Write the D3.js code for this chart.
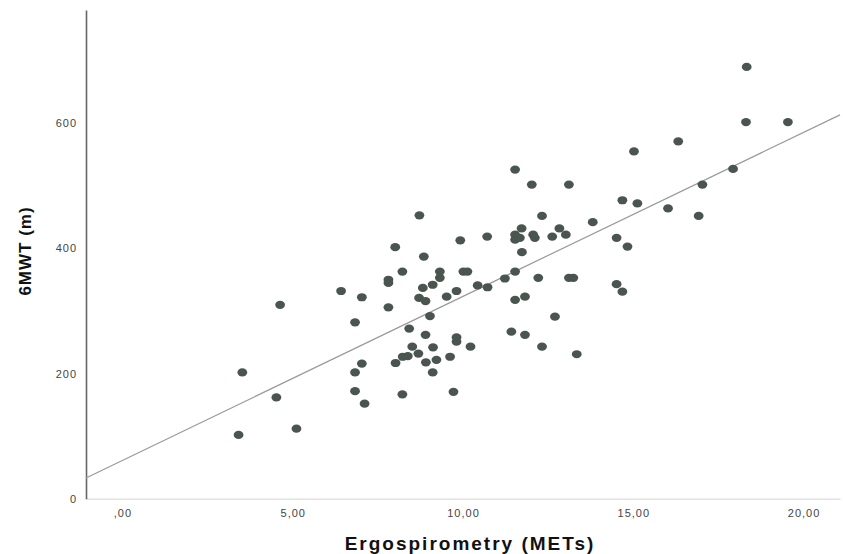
<!DOCTYPE html>
<html>
<head>
<meta charset="utf-8">
<script src="https://cdnjs.cloudflare.com/ajax/libs/d3/7.8.5/d3.min.js"></script>
<style>
	body { margin: 0; background: #fff; }
	text { font-family: "Liberation Sans", Arial, sans-serif; }
</style>
</head>
<body>
<div id="chart"></div>
<script>
// METs from ergospirometry (x) and 6MWT distance in m (y)
var mets = [3.41, 3.52, 4.52, 4.63, 5.11, 6.42, 6.83, 6.83, 6.83, 7.03, 7.03, 7.11, 7.81, 7.81, 7.81,
	8.01, 8.02, 8.22, 8.22, 8.23, 8.38, 8.42, 8.51, 8.69, 8.72, 8.71, 8.82, 8.85, 8.90, 8.90,
	8.91, 9.03, 9.11, 9.12, 9.11, 9.22, 9.32, 9.32, 9.52, 9.62, 9.72, 9.81, 9.81, 9.81, 9.92,
	10.01, 10.13, 10.22, 10.43, 10.72, 10.71, 11.23, 11.42, 11.53, 11.53, 11.53, 11.53, 11.53, 11.67, 11.72,
	11.73, 11.82, 11.82, 12.02, 12.06, 12.11, 12.21, 12.32, 12.32, 12.62, 12.70, 12.83, 13.02, 13.11, 13.11,
	13.24, 13.34, 13.81, 14.51, 14.51, 14.68, 14.68, 14.83, 15.02, 15.12, 16.02, 16.32, 16.92, 17.03, 17.93,
	18.33, 18.31, 19.54];
var walk = [102, 202, 162, 310, 112, 332, 282, 202, 172, 322, 216, 152, 350, 345, 306,
	402, 217, 363, 167, 227, 228, 272, 243, 232, 453, 321, 337, 387, 316, 262,
	218, 292, 342, 242, 202, 222, 363, 353, 323, 227, 171, 332, 258, 251, 413,
	363, 363, 243, 341, 338, 419, 352, 267, 526, 422, 414, 363, 318, 417, 432,
	394, 323, 262, 502, 422, 417, 353, 452, 243, 419, 291, 432, 422, 502, 353,
	353, 231, 442, 417, 343, 331, 477, 403, 555, 472, 464, 571, 452, 502, 527,
	690, 602, 602];

// fit line as drawn (intercept, slope)
var fitLine = [61.4, 26.2];

var xTicks = [0, 5, 10, 15, 20];
var xTickLabels = [",00", "5,00", "10,00", "15,00", "20,00"];
var yTicks = [0, 200, 400, 600];

var width = 843, height = 554;
var margin = {top: 10, right: 3, bottom: 55.2, left: 86};
var innerW = width - margin.left - margin.right;
var innerH = height - margin.top - margin.bottom;

var x = d3.scaleLinear().domain([-1.07, 21.07]).range([0, innerW]);
var y = d3.scaleLinear().domain([0, 781]).range([innerH, 0]);

var svg = d3.select('#chart').append('svg')
	.attr('width', width)
	.attr('height', height);

var g = svg.append('g')
	.attr('transform', 'translate(' + margin.left + ',' + margin.top + ')');

//x axis, light line and comma decimals
var xAxis = d3.axisBottom(x)
	.tickValues(xTicks)
	.tickFormat(function(d, i) { return xTickLabels[i]; })
	.tickSize(0)
	.tickPadding(10);
var gx = g.append('g')
	.attr('transform', 'translate(0,' + innerH + ')')
	.call(xAxis);
gx.select('.domain').attr('stroke', '#e2e2e2').attr('stroke-width', 1.5);
gx.selectAll('text')
	.attr('fill', '#444')
	.style('font-size', '11px')
	.style('letter-spacing', '1px');

//y axis
var yAxis = d3.axisLeft(y)
	.tickValues(yTicks)
	.tickSize(0)
	.tickPadding(9);
var gy = g.append('g').call(yAxis);
gy.select('.domain').attr('stroke', '#666').attr('stroke-width', 1.6);
gy.selectAll('text')
	.attr('fill', '#444')
	.style('font-size', '11px')
	.style('letter-spacing', '1px');

//regression line
var x0 = x.domain()[0], x1 = x.domain()[1];
g.append('line')
	.attr('x1', x(x0))
	.attr('y1', y(fitLine[0] + fitLine[1] * x0))
	.attr('x2', x(x1))
	.attr('y2', y(fitLine[0] + fitLine[1] * x1))
	.attr('stroke', '#9a9a9a')
	.attr('stroke-width', 1.2);

//points
var pts = d3.zip(mets, walk);
g.selectAll('ellipse')
	.data(pts)
	.enter().append('ellipse')
	.attr('cx', function(d) { return x(d[0]); })
	.attr('cy', function(d) { return y(d[1]); })
	.attr('rx', 4.9)
	.attr('ry', 4.1)
	.attr('fill', '#4a5550');

//axis titles
svg.append('text')
	.attr('x', 470)
	.attr('y', 550)
	.attr('text-anchor', 'middle')
	.style('font-size', '19px')
	.style('font-weight', 'bold')
	.style('letter-spacing', '2px')
	.attr('fill', '#111')
	.text('Ergospirometry (METs)');

svg.append('text')
	.attr('transform', 'translate(31,251) rotate(-90)')
	.attr('text-anchor', 'middle')
	.style('font-size', '17px')
	.style('font-weight', 'bold')
	.style('letter-spacing', '1px')
	.attr('fill', '#111')
	.text('6MWT (m)');
</script>
</body>
</html>
